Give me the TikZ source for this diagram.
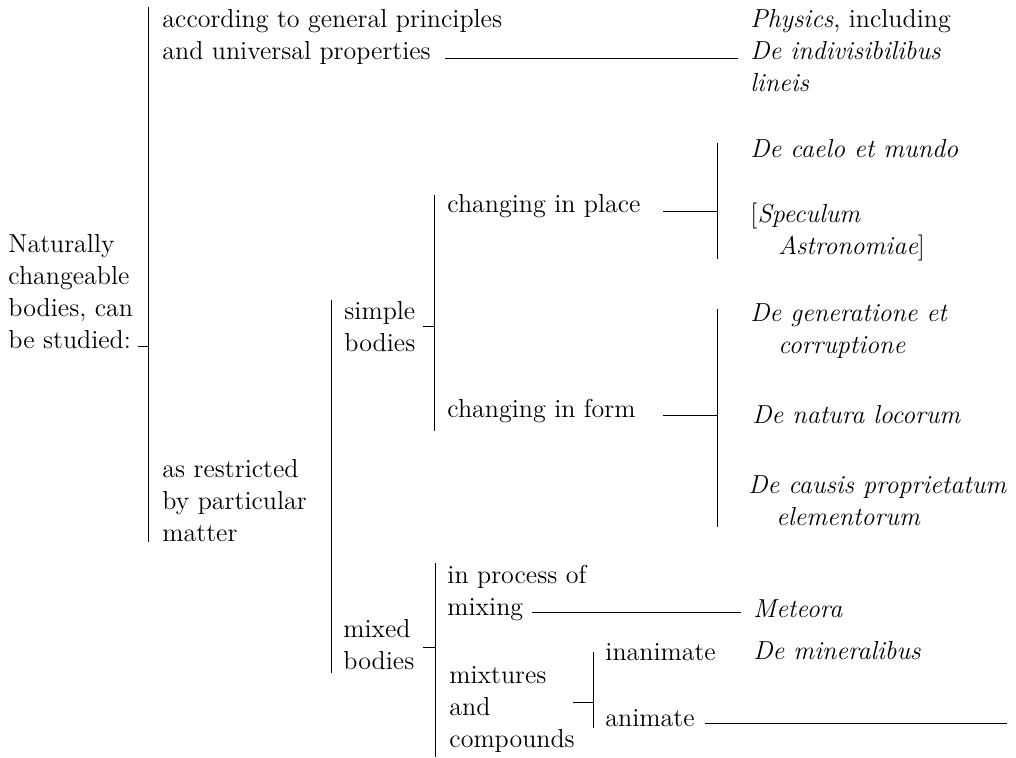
\documentclass[tikz,border=0pt]{standalone}
\usetikzlibrary{positioning}
\begin{document}
\begin{tikzpicture}[x=0.5pt,y=-0.5pt,line width=0.45pt,
  every node/.style={inner sep=0pt,anchor=base west,align=left,font=\fontsize{13}{16}\selectfont},
  book/.style={font=\fontsize{13}{16}\selectfont\itshape}]
\useasboundingbox (0,0) rectangle (1016,758);
\node (root) at (8,349) {Naturally\\changeable\\bodies, can\\be studied:};
\node (gen) at (162,60) {according to general principles\\and universal properties};
\node (restr) at (162,541) {as restricted\\by particular\\matter};
\node (simple) at (344,352) {simple\\bodies};
\node (mixed) at (343,669) {mixed\\bodies};
\node (place) at (447,213) {changing in place};
\node (form) at (447,418) {changing in form};
\node (proc) at (447,615) {in process of\\mixing};
\node (mixt) at (449,747) {mixtures\\and\\compounds};
\node (inanim) at (605,660) {inanimate};
\node (anim) at (605,726) {animate};
\node[book] (phys) at (750,92) {Physics{\upshape, including}\\De indivisibilibus\\lineis};
\node[book] (caelo) at (750,158) {De caelo et mundo};
\node[book] (spec) at (750,255) {{\upshape[}Speculum\\\hspace*{14pt}Astronomiae{\upshape]}};
\node[book] (gener) at (750,354) {De generatione et\\\hspace*{14pt}corruptione};
\node[book] (natura) at (752,424) {De natura locorum};
\node[book] (causis) at (748,525) {De causis proprietatum\\\hspace*{14pt}elementorum};
\node[book] (meteo) at (753,617) {Meteora};
\node[book] (miner) at (753,659) {De mineralibus};
\coordinate (rootT) at (148,7);
\coordinate (rootB) at (148,542);
\coordinate (rootTick) at (138,346);
\coordinate (midT) at (331,300);
\coordinate (midB) at (331,673);
\coordinate (simpleT) at (434,195);
\coordinate (simpleB) at (434,431);
\coordinate (simpleTick) at (423,326);
\coordinate (placeT) at (717,143);
\coordinate (placeB) at (717,259);
\coordinate (placeDash) at (663,211);
\coordinate (formT) at (717,309);
\coordinate (formB) at (717,527);
\coordinate (formDash) at (663,415);
\coordinate (mixedT) at (435,563);
\coordinate (mixedB) at (435,757);
\coordinate (mixedTick) at (423,647);
\coordinate (mixtT) at (593,652);
\coordinate (mixtB) at (593,728);
\coordinate (mixtTick) at (573,702);
\coordinate (genDash) at (445,58);
\coordinate (procDash) at (532,612);
\coordinate (animDash) at (705,723);
\draw (rootT) -- (rootB);
\draw (rootTick) -- (rootTick -| rootT);
\draw (midT) -- (midB);
\draw (simpleT) -- (simpleB);
\draw (simpleTick) -- (simpleTick -| simpleT);
\draw (placeT) -- (placeB);
\draw (placeDash) -- (placeDash -| placeT);
\draw (formT) -- (formB);
\draw (formDash) -- (formDash -| formT);
\draw (mixedT) -- (mixedB);
\draw (mixedTick) -- (mixedTick -| mixedT);
\draw (mixtT) -- (mixtB);
\draw (mixtTick) -- (mixtTick -| mixtT);
\draw (genDash) -- ([xshift=-6]genDash -| phys.west);
\draw (procDash) -- ([xshift=-6]procDash -| meteo.west);
\draw (animDash) -- (1007,723);
\end{tikzpicture}
\end{document}
